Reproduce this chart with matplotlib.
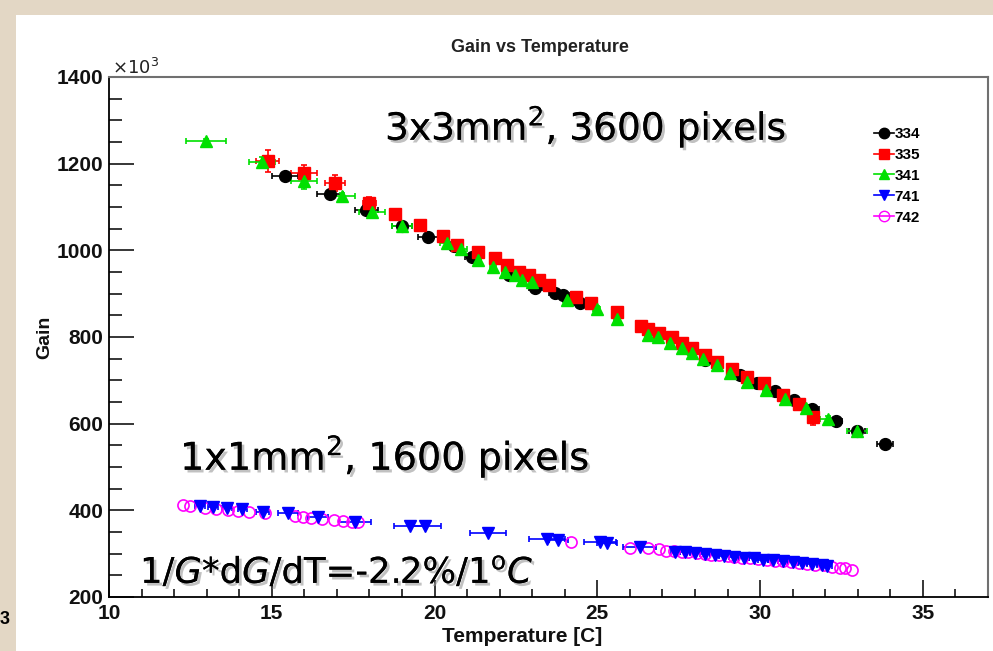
import matplotlib
matplotlib.use("Agg")
import matplotlib.pyplot as plt
from matplotlib.patches import Rectangle
from matplotlib.lines import Line2D
from matplotlib.ticker import MultipleLocator
import matplotlib.patheffects as pe

# ---------------- data ----------------
t_334 = [15.4, 16.8, 17.9, 19.0, 19.8, 20.6, 21.15, 22.3, 23.1, 23.7, 23.95, 24.47,
         28.3, 29.38, 29.9, 30.45, 31.04, 31.6, 32.33, 32.97, 33.83]
g_334 = [1172, 1130, 1093, 1056, 1031, 1010, 985, 943, 913, 901, 897, 878,
         748, 712, 694, 675, 655, 634, 606, 583, 553]
xe_334 = [0.4, 0.4, 0.35, 0.3, 0.3, 0.25, 0.2, 0.2, 0.2, 0.2, 0.2, 0.2,
          0.15, 0.15, 0.15, 0.15, 0.15, 0.2, 0.2, 0.25, 0.25]
ye_334 = [8, 8, 8, 6, 6, 5, 5, 5, 5, 5, 5, 5, 4, 4, 4, 4, 4, 4, 4, 4, 4]

t_335 = [14.88, 16.0, 16.94, 17.99, 18.8, 19.55, 20.26, 20.7, 21.33, 21.86, 22.23,
         22.6, 22.9, 23.2, 23.5, 24.34, 24.8, 25.6, 26.33, 26.56, 26.9, 27.3, 27.6,
         27.9, 28.3, 28.67, 29.13, 29.6, 30.12, 30.7, 31.2, 31.62]
g_335 = [1206, 1178, 1155, 1109, 1084, 1058, 1033, 1012, 996, 982, 966,
         950, 943, 931, 920, 893, 878, 858, 825, 818, 809, 800, 786,
         774, 758, 742, 726, 708, 694, 666, 645, 615]
xe_335 = [0.35, 0.4, 0.3, 0.2, 0.15, 0.15, 0.15, 0.15, 0.1, 0.1, 0.1,
          0.1, 0.1, 0.1, 0.1, 0.1, 0.1, 0.1, 0.1, 0.1, 0.1, 0.1, 0.1,
          0.1, 0.1, 0.1, 0.1, 0.1, 0.1, 0.1, 0.1, 0.1]
ye_335 = [25, 18, 18, 15, 10, 8, 8, 6, 6, 6, 6,
          6, 6, 6, 6, 6, 6, 6, 6, 6, 6, 6, 6,
          6, 6, 6, 6, 6, 6, 8, 8, 18]

t_341 = [12.98, 14.7, 16.0, 17.15, 18.08, 19.0, 20.38, 20.8, 21.33, 21.8, 22.16,
         22.47, 22.7, 23.0, 24.06, 24.98, 25.6, 26.56, 26.86, 27.23, 27.6, 27.9,
         28.25, 28.67, 29.07, 29.6, 30.18, 30.76, 31.4, 32.08, 32.97]
g_341 = [1252, 1204, 1160, 1125, 1088, 1056, 1017, 1003, 978, 962, 950,
         943, 931, 927, 885, 865, 842, 805, 800, 786, 775, 763,
         749, 735, 717, 696, 678, 657, 636, 611, 583]
xe_341 = [0.6, 0.4, 0.4, 0.4, 0.4, 0.3, 0.2, 0.2, 0.1, 0.1, 0.1,
          0.1, 0.1, 0.1, 0.1, 0.1, 0.1, 0.1, 0.1, 0.1, 0.1, 0.1,
          0.1, 0.1, 0.1, 0.1, 0.1, 0.1, 0.15, 0.25, 0.3]
ye_341 = [5, 12, 18, 8, 8, 6, 6, 6, 6, 6, 6,
          6, 6, 6, 6, 6, 6, 6, 6, 6, 6, 6,
          6, 6, 6, 6, 6, 6, 6, 6, 6]

t_741 = [12.8, 13.2, 13.62, 14.1, 14.73, 15.5, 16.42, 17.56, 19.24, 19.7, 21.64,
         23.45, 23.8, 25.08, 25.3, 26.3, 27.4, 27.7, 28.0, 28.3, 28.6, 28.9, 29.2,
         29.5, 29.8, 30.1, 30.4, 30.7, 31.0, 31.3, 31.6, 31.9, 32.05]
g_741 = [410, 407, 405, 402, 397, 394, 385, 373, 364, 364, 347,
         334, 332, 327, 325, 316, 305, 303, 301, 299, 297, 295, 293,
         291, 289, 286, 285, 283, 281, 279, 277, 274, 271]
xe_741 = [0.15, 0.15, 0.15, 0.15, 0.2, 0.3, 0.3, 0.5, 0.5, 0.5, 0.55,
          0.55, 0.3, 0.5, 0.3, 0.5, 0.15, 0.15, 0.15, 0.15, 0.15, 0.15, 0.15,
          0.15, 0.15, 0.15, 0.15, 0.15, 0.15, 0.15, 0.15, 0.15, 0.15]

t_742 = [12.27, 12.5, 12.95, 13.3, 13.65, 13.95, 14.3, 14.8, 15.7, 15.95, 16.2,
         16.55, 16.9, 17.2, 17.45, 17.65, 24.2, 26.0, 26.55, 26.9, 27.1, 27.35,
         27.6, 27.8, 28.05, 28.3, 28.5, 28.75, 29.0, 29.2, 29.45, 29.7, 29.95,
         30.2, 30.45, 30.7, 30.95, 31.2, 31.45, 31.7, 31.95, 32.2, 32.45, 32.6, 32.82]
g_742 = [412, 410, 405, 403, 400, 398, 397, 393, 388, 384, 382,
         381, 378, 376, 374, 372, 327, 313, 312, 310, 307, 306,
         304, 303, 301, 299, 298, 296, 294, 293, 291, 289, 287,
         286, 284, 283, 281, 279, 277, 275, 273, 270, 267, 266, 262]

series_names = ["334", "335", "341", "741", "742"]

x_ticks = [10, 15, 20, 25, 30, 35]
y_ticks = [200, 400, 600, 800, 1000, 1200, 1400]

title = "Gain vs Temperature"
x_title = "Temperature [C]"
y_title = "Gain"

# ---------------- figure ----------------
W, H = 993, 651
fig = plt.figure(figsize=(W / 100, H / 100), dpi=100)
fig.patch.set_facecolor("#e3d7c5")
fig.patches.append(Rectangle((16 / W, 0), 1, 1 - 15 / H, transform=fig.transFigure,
                             facecolor="white", edgecolor="none", zorder=-1))

def fx(px):
    return px / W

def fy(py):
    return 1 - py / H

ax = fig.add_axes([fx(109), fy(597), fx(988) - fx(109), fy(77) - fy(597)])
ax.set_xlim(10, 37)
ax.set_ylim(200, 1400)

common = dict(linestyle="none", elinewidth=1.2, capsize=2.5, capthick=1.2)
ax.errorbar(t_334, g_334, xerr=xe_334, yerr=ye_334, marker="o", ms=8.5,
            color="black", mec="black", **common)
ax.errorbar(t_335, g_335, xerr=xe_335, yerr=ye_335, marker="s", ms=8.5,
            color="#ff0000", mec="#ff0000", **common)
ax.errorbar(t_341, g_341, xerr=xe_341, yerr=ye_341, marker="^", ms=8.5,
            color="#00e000", mec="#00e000", **common)
ax.errorbar(t_741, g_741, xerr=xe_741, marker="v", ms=8,
            color="#0000ff", mec="#0000ff", **common)
ax.plot(t_742, g_742, linestyle="none", marker="o", ms=8, mfc="none",
        mec="#ff00ff", mew=1.2)

# axes styling (ROOT-like)
for side in ["left", "bottom"]:
    ax.spines[side].set_color("black")
    ax.spines[side].set_linewidth(1.3)
for side in ["top", "right"]:
    ax.spines[side].set_color("#707070")
    ax.spines[side].set_linewidth(1.5)

ax.set_xticks(x_ticks)
ax.set_yticks(y_ticks)
ax.xaxis.set_minor_locator(MultipleLocator(1))
ax.yaxis.set_minor_locator(MultipleLocator(50))
ax.tick_params(axis="x", which="major", direction="in", length=12, width=1.1,
               labelsize=15, pad=5)
ax.tick_params(axis="x", which="minor", direction="in", length=6, width=1.1)
ax.tick_params(axis="y", which="major", direction="in", length=18, width=1.1,
               labelsize=15, pad=4)
ax.tick_params(axis="y", which="minor", direction="in", length=9.5, width=1.1)
for lab in ax.get_xticklabels() + ax.get_yticklabels():
    lab.set_fontweight("bold")
    lab.set_family("Liberation Sans")
    lab.set_color("#111111")

# titles
fig.text(fx(540), fy(48), title, ha="center", va="center", fontsize=13,
         fontweight="bold", family="Liberation Sans", color="#222222")
fig.text(fx(522), fy(636), x_title, ha="center", va="center", fontsize=15,
         fontweight="bold", family="Liberation Sans", color="#111111")
fig.text(fx(45), fy(337), y_title, ha="center", va="center", rotation=90,
         fontsize=14, fontweight="bold", family="Liberation Sans", color="#111111")
fig.text(fx(112), fy(68), r"$\times10^{3}$", ha="left", va="center", fontsize=13,
         color="#222222")
fig.text(fx(0), fy(620), "3", ha="left", va="center", fontsize=13,
         fontweight="bold", family="Liberation Sans", color="black")

# legend
handles = [
    Line2D([0], [0], color="black", marker="o", ms=7.5, lw=1.2),
    Line2D([0], [0], color="#ff0000", marker="s", ms=7.5, lw=1.2),
    Line2D([0], [0], color="#00e000", marker="^", ms=7.5, lw=1.2),
    Line2D([0], [0], color="#0000ff", marker="v", ms=7.5, lw=1.2),
    Line2D([0], [0], color="#ff00ff", marker="o", ms=7.5, mfc="none", lw=1.2),
]
leg = fig.legend(handles, series_names, loc="upper left",
                 bbox_to_anchor=(fx(874), fy(127)), frameon=False,
                 handlelength=1.3, handletextpad=0.05, labelspacing=0.45,
                 borderaxespad=0, borderpad=0,
                 prop={"family": "Liberation Sans", "weight": "bold", "size": 11})

# annotations with shadow
shadow = [pe.withSimplePatchShadow(offset=(2, -2), shadow_rgbFace="#999999", alpha=0.6),
          pe.Normal()]
fig.text(fx(385), fy(140), r"3x3mm$^2$, 3600 pixels", ha="left", va="baseline",
         fontsize=27, family="DejaVu Sans", color="black", path_effects=shadow)
fig.text(fx(180), fy(470), r"1x1mm$^2$, 1600 pixels", ha="left", va="baseline",
         fontsize=27.5, family="DejaVu Sans", color="black", path_effects=shadow)
fig.text(fx(140), fy(583), r"1/$G$*d$G$/dT=-2.2%/1$^{\rm o}$$C$", ha="left",
         va="baseline", fontsize=25.5, family="DejaVu Sans", color="black",
         path_effects=shadow)

fig.savefig("out.png", dpi=100, facecolor=fig.get_facecolor())
